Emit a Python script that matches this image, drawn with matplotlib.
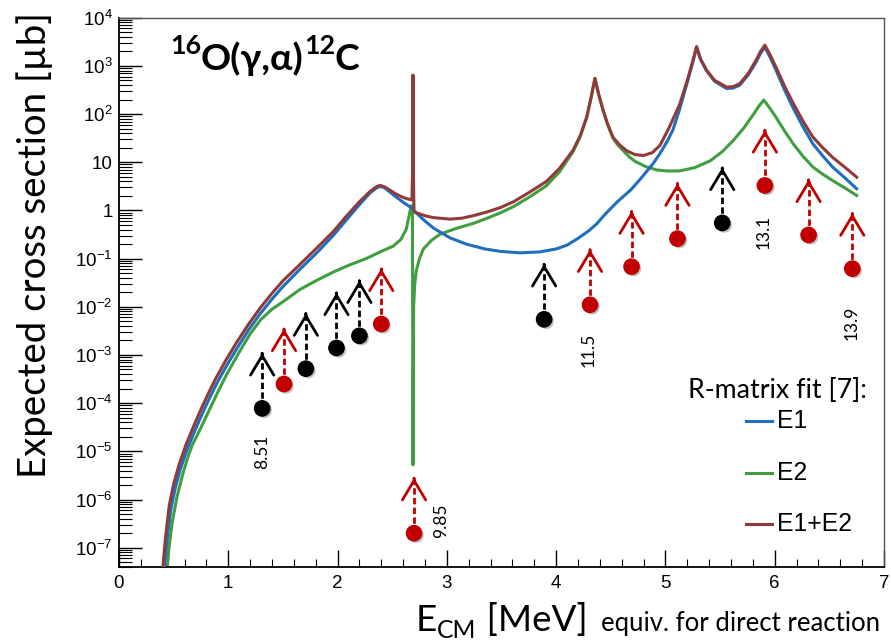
import numpy as np
import matplotlib
matplotlib.use('Agg')
import matplotlib.pyplot as plt
from matplotlib.transforms import IdentityTransform
from matplotlib.lines import Line2D
import matplotlib.patheffects as pe
from matplotlib.ticker import LogLocator, FixedLocator, FuncFormatter, MultipleLocator, NullFormatter

plt.rcParams['mathtext.fontset'] = 'custom'
plt.rcParams['mathtext.rm'] = 'Liberation Sans'
plt.rcParams['mathtext.it'] = 'Liberation Sans:italic'
plt.rcParams['mathtext.bf'] = 'Liberation Sans:bold'
plt.rcParams['mathtext.default'] = 'regular'

# ---------------- data ----------------
# E1+E2 (sum) : energy [MeV], log10(cross section [ub])
sum_x = [0.40, 0.42, 0.44, 0.46, 0.50, 0.549, 0.61, 0.675, 0.74, 0.80, 0.88, 0.98, 1.076, 1.18,
         1.29, 1.40, 1.50, 1.656, 1.81, 1.96, 2.08, 2.20, 2.30, 2.36, 2.39, 2.43, 2.48, 2.535,
         2.60, 2.64, 2.68, 2.686, 2.690, 2.694, 2.699, 2.71, 2.80, 2.88, 3.03, 3.14, 3.24, 3.37,
         3.49, 3.61, 3.75, 3.91, 4.03, 4.155, 4.22, 4.28, 4.32, 4.355, 4.39, 4.43, 4.47, 4.52,
         4.58, 4.645, 4.72, 4.80, 4.88, 4.95, 5.03, 5.13, 5.20, 5.25, 5.285, 5.32, 5.376, 5.45,
         5.56, 5.62, 5.68, 5.76, 5.83, 5.87, 5.91, 5.96, 6.01, 6.09, 6.17, 6.26, 6.35, 6.44,
         6.53, 6.64, 6.75]
sum_log = [-7.45, -6.92, -6.50, -6.12, -5.68, -5.28, -4.88, -4.52, -4.18, -3.88, -3.51, -3.10,
           -2.74, -2.38, -2.03, -1.72, -1.46, -1.12, -0.78, -0.44, -0.12, 0.18, 0.40, 0.50, 0.52,
           0.49, 0.42, 0.34, 0.27, 0.24, 0.22, 0.75, 2.81, 0.75, 0.00, -0.04, -0.11, -0.15,
           -0.18, -0.16, -0.11, -0.03, 0.06, 0.18, 0.37, 0.60, 0.87, 1.25, 1.55, 1.94, 2.35,
           2.74, 2.40, 2.08, 1.80, 1.52, 1.36, 1.24, 1.16, 1.14, 1.20, 1.35, 1.70, 2.20, 2.70,
           3.10, 3.40, 3.15, 2.91, 2.70, 2.56, 2.57, 2.63, 2.85, 3.12, 3.30, 3.43, 3.22, 2.98,
           2.58, 2.22, 1.85, 1.52, 1.30, 1.10, 0.90, 0.69]

# E1
e1_x = [0.415, 0.435, 0.455, 0.475, 0.515, 0.56, 0.62, 0.685, 0.75, 0.81, 0.89, 0.99, 1.08,
        1.18, 1.29, 1.40, 1.50, 1.656, 1.81, 1.96, 2.08, 2.20, 2.30, 2.36, 2.39, 2.43, 2.48,
        2.535, 2.60, 2.665, 2.72, 2.80, 2.88, 3.03, 3.18, 3.35, 3.49, 3.67, 3.85, 4.00, 4.10,
        4.20, 4.30, 4.37, 4.46, 4.56, 4.68, 4.77, 4.89, 4.95, 5.02, 5.07, 5.13, 5.20, 5.25,
        5.285, 5.32, 5.376, 5.45, 5.56, 5.62, 5.68, 5.76, 5.83, 5.87, 5.91, 5.96, 6.01, 6.09,
        6.17, 6.26, 6.35, 6.44, 6.53, 6.64, 6.75]
e1_log = [-7.45, -6.95, -6.55, -6.20, -5.76, -5.38, -4.98, -4.62, -4.28, -3.98, -3.61, -3.20,
          -2.86, -2.50, -2.15, -1.84, -1.58, -1.22, -0.88, -0.52, -0.20, 0.12, 0.37, 0.47, 0.50,
          0.47, 0.38, 0.28, 0.17, 0.07, -0.05, -0.22, -0.37, -0.57, -0.70, -0.80, -0.85, -0.88,
          -0.86, -0.80, -0.72, -0.58, -0.42, -0.28, -0.05, 0.18, 0.42, 0.65, 0.98, 1.18, 1.45,
          1.68, 2.10, 2.66, 3.07, 3.39, 3.14, 2.90, 2.68, 2.53, 2.54, 2.60, 2.82, 3.08, 3.26,
          3.39, 3.17, 2.92, 2.50, 2.12, 1.73, 1.38, 1.13, 0.90, 0.68, 0.45]

# E2
e2_x = [0.44, 0.46, 0.488, 0.53, 0.58, 0.63, 0.67, 0.741, 0.82, 0.915, 0.986, 1.09, 1.20, 1.30,
        1.40, 1.51, 1.656, 1.81, 1.96, 2.10, 2.26, 2.40, 2.51, 2.58, 2.63, 2.66, 2.675, 2.685,
        2.690, 2.696, 2.705, 2.72, 2.75, 2.785, 2.86, 2.94, 3.09, 3.24, 3.37, 3.49, 3.61, 3.75,
        3.91, 4.03, 4.155, 4.22, 4.28, 4.32, 4.355, 4.39, 4.43, 4.47, 4.52, 4.56, 4.61, 4.67,
        4.72, 4.82, 4.92, 5.01, 5.13, 5.27, 5.41, 5.52, 5.62, 5.72, 5.81, 5.86, 5.90, 5.95,
        6.01, 6.09, 6.17, 6.26, 6.35, 6.44, 6.53, 6.64, 6.75]
e2_log = [-7.45, -6.95, -6.46, -5.95, -5.50, -5.12, -4.87, -4.55, -4.17, -3.72, -3.40, -2.98,
          -2.56, -2.26, -2.05, -1.88, -1.64, -1.45, -1.28, -1.14, -1.00, -0.85, -0.74, -0.60,
          -0.38, -0.05, 0.10, 0.08, -5.28, -2.00, -1.55, -1.25, -1.00, -0.80, -0.62, -0.49,
          -0.37, -0.27, -0.16, -0.05, 0.08, 0.27, 0.51, 0.80, 1.22, 1.53, 1.93, 2.34, 2.74,
          2.40, 2.07, 1.79, 1.50, 1.37, 1.25, 1.11, 1.02, 0.91, 0.84, 0.82, 0.82, 0.89, 1.03,
          1.22, 1.45, 1.72, 2.01, 2.18, 2.29, 2.14, 1.94, 1.65, 1.38, 1.12, 0.90, 0.75, 0.62,
          0.47, 0.31]

# lower limits (points with upward arrows)
pt_x = [1.31, 1.51, 1.71, 1.99, 2.20, 2.40, 2.70, 3.89, 4.31, 4.69, 5.11, 5.52, 5.91, 6.31, 6.71]
pt_y = [7.8e-5, 2.5e-4, 5.2e-4, 1.4e-3, 2.5e-3, 4.4e-3, 2.0e-7, 5.5e-3, 1.1e-2, 6.8e-2,
        0.26, 0.55, 3.3, 0.31, 0.062]
pt_kind = ['k', 'r', 'k', 'k', 'k', 'r', 'r', 'k', 'r', 'r', 'r', 'k', 'r', 'r', 'r']

# level labels (excitation energy, MeV)
lab_text = ['8.51', '9.85', '11.5', '13.1', '13.9']
lab_x = [1.31, 2.95, 4.30, 5.90, 6.70]
lab_y = [1.0e-5, 3.6e-7, 1.3e-3, 0.36, 4.6e-3]

y_ticks = [1e-7, 1e-6, 1e-5, 1e-4, 1e-3, 1e-2, 1e-1, 1, 10, 1e2, 1e3, 1e4]
legend_labels = ['E1', 'E2', 'E1+E2']

# ---------------- styling ----------------
C_E1 = '#1f6fbe'
C_E2 = '#3f9f3f'
C_SUM = '#913a3a'
C_RED = '#c00000'
W, H = 891, 643

fig = plt.figure(figsize=(W / 100, H / 100), dpi=100)
ax = fig.add_axes([119 / W, (H - 567) / H, (884 - 119) / W, (567 - 17.7) / H])
ax.set_xlim(0, 7)
ax.set_yscale('log')
ax.set_ylim(10 ** -7.4, 1e4)

ax.plot(e2_x, 10 ** np.array(e2_log), color=C_E2, lw=2.2, zorder=2, solid_joinstyle='round')
ax.plot(e1_x, 10 ** np.array(e1_log), color=C_E1, lw=2.2, zorder=3, solid_joinstyle='round')
ax.plot(sum_x, 10 ** np.array(sum_log), color=C_SUM, lw=2.2, zorder=4, solid_joinstyle='round')

ARROW_DEC = 1.15
shadow = [pe.SimplePatchShadow(offset=(1.5, -1.5), shadow_rgbFace='0.3', alpha=0.35), pe.Normal()]
for x, y, k in zip(pt_x, pt_y, pt_kind):
    c = 'black' if k == 'k' else C_RED
    ytip = y * 10 ** ARROW_DEC
    ax.plot([x, x], [y, ytip / 10 ** 0.03], color=c, lw=2.0, ls=(0, (2.3, 1.2)), zorder=5)
    ax.annotate('', xy=(x, ytip), xytext=(x, ytip / 10 ** 0.02),
                arrowprops=dict(arrowstyle='->,head_length=0.7,head_width=0.42',
                                color=c, lw=2.0, shrinkA=0, shrinkB=0, mutation_scale=20),
                zorder=6)
    ax.plot([x], [y], 'o', color=c, ms=11, zorder=7, path_effects=shadow)

for s, x, y in zip(lab_text, lab_x, lab_y):
    ax.text(x, y, s, rotation=90, ha='center', va='center', fontsize=12.5,
            family=['Lato', 'DejaVu Sans'], color='black', zorder=8)

# axes / ticks
for sp in ['left', 'bottom']:
    ax.spines[sp].set_color('black')
    ax.spines[sp].set_linewidth(1.3)
for sp in ['top', 'right']:
    ax.spines[sp].set_color('#555555')
    ax.spines[sp].set_linewidth(1.0)

ax.yaxis.set_major_locator(FixedLocator(y_ticks))
ax.yaxis.set_minor_locator(LogLocator(base=10, subs=np.arange(2, 10), numticks=30))
ax.yaxis.set_minor_formatter(NullFormatter())


def yfmt(v, pos):
    e = int(round(np.log10(v)))
    if e == 0:
        return '1'
    if e == 1:
        return '10'
    return r'$10^{%d}$' % e


ax.yaxis.set_major_formatter(FuncFormatter(yfmt))
ax.xaxis.set_major_locator(MultipleLocator(1))
ax.xaxis.set_minor_locator(MultipleLocator(0.2))
ax.tick_params(axis='y', which='major', direction='in', length=16.5, width=1.0, pad=4.5,
               labelsize=13.5, right=False)
ax.tick_params(axis='y', which='minor', direction='in', length=9.4, width=0.8, right=False)
ax.tick_params(axis='x', which='major', direction='in', length=12, width=1.0, pad=6,
               labelsize=13.5, top=False)
ax.tick_params(axis='x', which='minor', direction='in', length=6, width=0.8, top=False)
for lab in ax.get_xticklabels() + ax.get_yticklabels():
    lab.set_family('Liberation Sans')

# ---------------- free text in pixel coordinates ----------------
renderer = fig.canvas.get_renderer()
IT = IdentityTransform()
FAM = ['Lato', 'DejaVu Sans']


def Y(img_y):
    return H - img_y


def pieces(x, y, parts, target_w=None):
    def place(scale):
        xs, objs = x, []
        for s, size, dy, weight in parts:
            t = fig.text(xs, y + dy * scale, s, transform=IT, fontsize=size * scale,
                         va='baseline', ha='left', family=FAM, weight=weight)
            objs.append(t)
            xs = t.get_window_extent(renderer).x1
        return objs, xs
    objs, xe = place(1.0)
    if target_w is not None:
        sc = target_w / (xe - x)
        for t in objs:
            t.remove()
        place(sc)


# title
pieces(170, Y(70), [('16', 18, 15, 'bold'), ('O(γ,α)', 25, 0, 'bold'),
                    ('12', 18, 15, 'bold'), ('C', 25, 0, 'bold')], target_w=190)

# x label
pieces(416, Y(631), [('E', 27, 0, 'normal'), ('CM', 18, -7, 'normal'),
                     (' [MeV]', 27, 0, 'normal')], target_w=171)
pieces(601, Y(631), [('equiv. for direct reaction', 17, 0, 'normal')], target_w=278)

# y label
yl = fig.text(46, Y(245), 'Expected cross section [µb]', transform=IT, rotation=90,
              rotation_mode='anchor', ha='center', va='baseline', fontsize=27, family=FAM)
bb = yl.get_window_extent(renderer)
yl.set_fontsize(27 * 466 / bb.height)

# legend
hdr = fig.text(867, Y(398), 'R-matrix fit [7]:', transform=IT, ha='right', va='baseline',
               fontsize=17, family=FAM)
bb = hdr.get_window_extent(renderer)
hdr.set_fontsize(17 * 179 / bb.width)
for lab, col, ly in zip(legend_labels, [C_E1, C_E2, C_SUM], [420.7, 473.3, 524.3]):
    fig.add_artist(Line2D([746, 772], [Y(ly), Y(ly)], transform=IT, color=col, lw=2.2))
    fig.text(777, Y(ly), lab, transform=IT, ha='left', va='center', fontsize=17.8,
             family='Liberation Sans')

fig.savefig('out.png', dpi=100)
